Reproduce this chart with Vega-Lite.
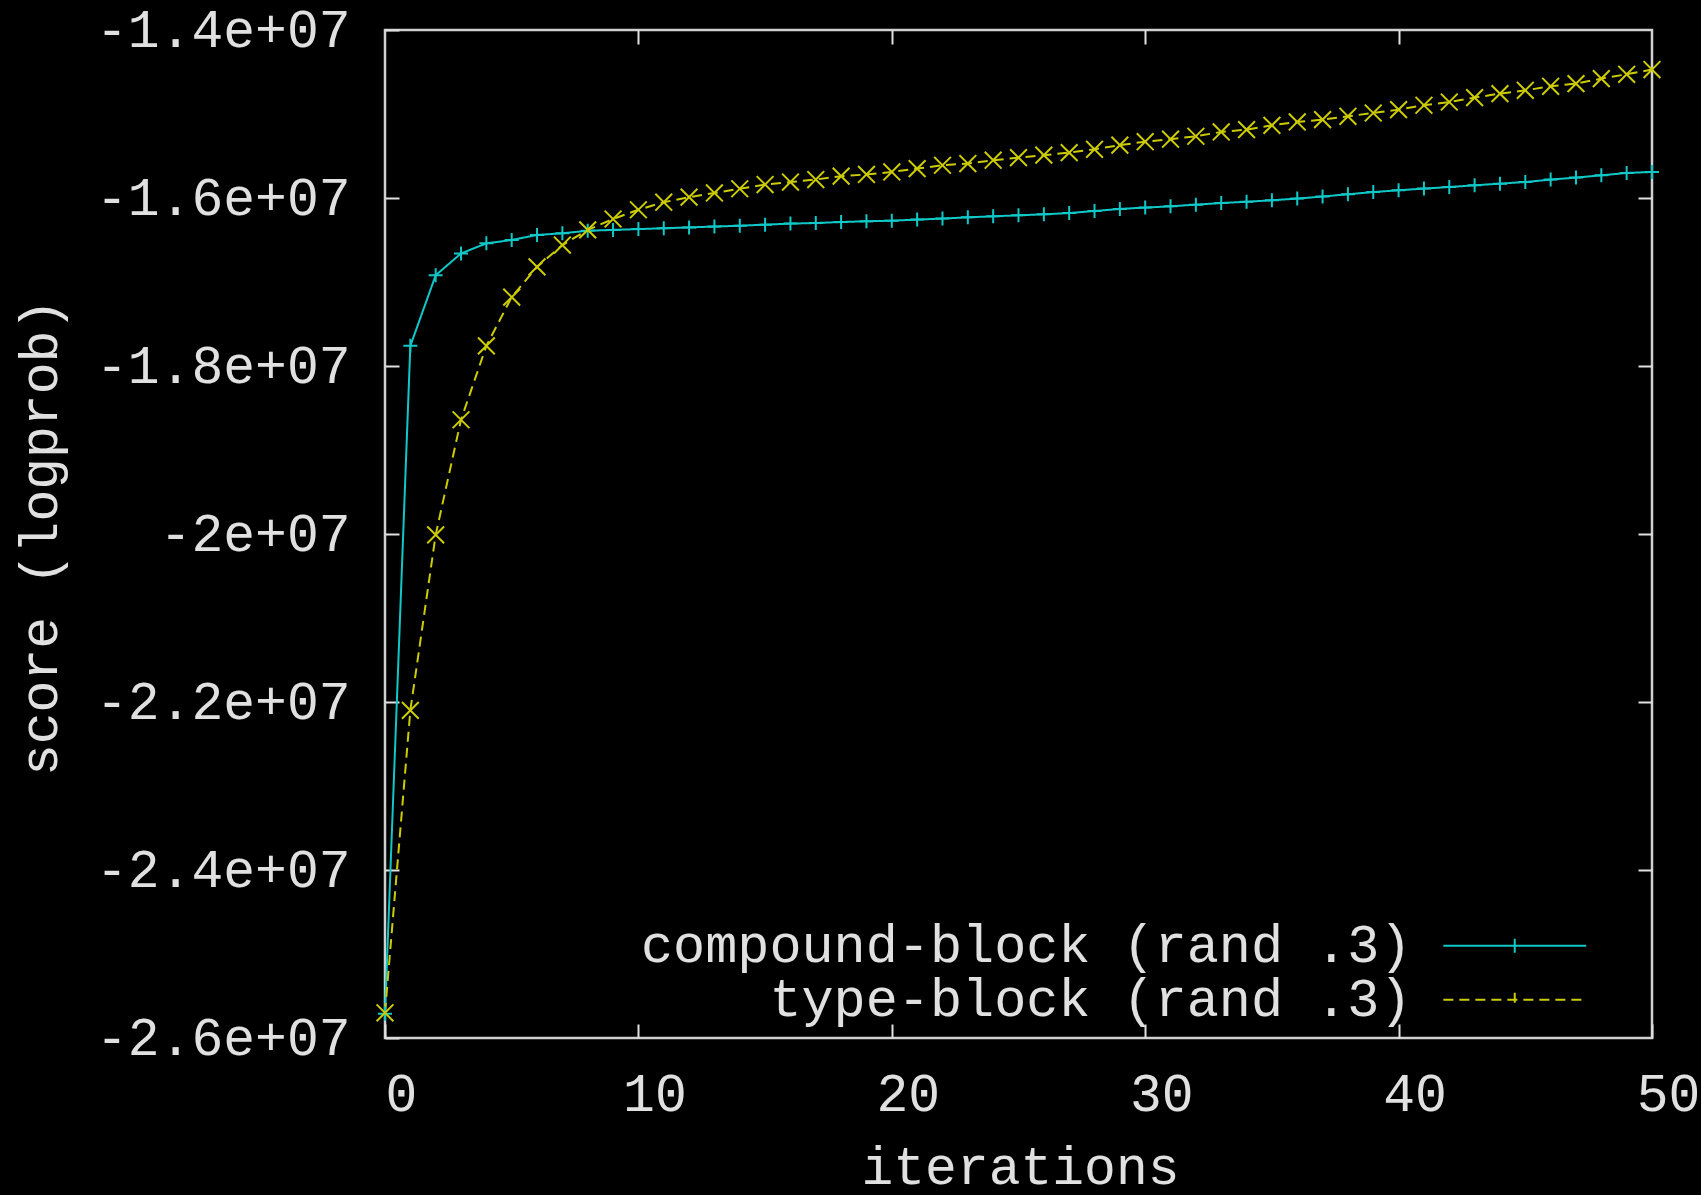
{
  "$schema": "https://vega.github.io/schema/vega-lite/v6.json",
  "width": 1267,
  "height": 1008,
  "autosize": "none",
  "padding": {"left": 385, "top": 30, "right": 49, "bottom": 157},
  "background": "#000000",
  "config": {
    "view": {"stroke": "#d0d0d0", "strokeWidth": 2.5},
    "font": "Liberation Mono",
    "axis": {
      "domain": false,
      "grid": false,
      "tickSize": -14,
      "tickWidth": 2,
      "tickColor": "#e0e0e0",
      "labelFont": "Liberation Mono",
      "labelFontSize": 53,
      "labelColor": "#e0e0e0",
      "labelFlush": false,
      "labelOverlap": false,
      "labelLimit": 0,
      "titleFont": "Liberation Mono",
      "titleFontSize": 53,
      "titleFontWeight": "normal",
      "titleColor": "#e0e0e0",
      "titleLimit": 0
    }
  },
  "datasets": {
    "scores": [
      {"iter": 0, "score": -25710000, "series": "compound-block (rand .3)"},
      {"iter": 1, "score": -17760000, "series": "compound-block (rand .3)"},
      {"iter": 2, "score": -16920000, "series": "compound-block (rand .3)"},
      {"iter": 3, "score": -16660000, "series": "compound-block (rand .3)"},
      {"iter": 4, "score": -16540000, "series": "compound-block (rand .3)"},
      {"iter": 5, "score": -16500000, "series": "compound-block (rand .3)"},
      {"iter": 6, "score": -16440000, "series": "compound-block (rand .3)"},
      {"iter": 7, "score": -16420000, "series": "compound-block (rand .3)"},
      {"iter": 8, "score": -16390000, "series": "compound-block (rand .3)"},
      {"iter": 9, "score": -16380000, "series": "compound-block (rand .3)"},
      {"iter": 10, "score": -16370000, "series": "compound-block (rand .3)"},
      {"iter": 11, "score": -16360000, "series": "compound-block (rand .3)"},
      {"iter": 12, "score": -16350000, "series": "compound-block (rand .3)"},
      {"iter": 13, "score": -16340000, "series": "compound-block (rand .3)"},
      {"iter": 14, "score": -16330000, "series": "compound-block (rand .3)"},
      {"iter": 15, "score": -16317000, "series": "compound-block (rand .3)"},
      {"iter": 16, "score": -16305000, "series": "compound-block (rand .3)"},
      {"iter": 17, "score": -16298000, "series": "compound-block (rand .3)"},
      {"iter": 18, "score": -16286000, "series": "compound-block (rand .3)"},
      {"iter": 19, "score": -16277000, "series": "compound-block (rand .3)"},
      {"iter": 20, "score": -16270000, "series": "compound-block (rand .3)"},
      {"iter": 21, "score": -16257000, "series": "compound-block (rand .3)"},
      {"iter": 22, "score": -16245000, "series": "compound-block (rand .3)"},
      {"iter": 23, "score": -16230000, "series": "compound-block (rand .3)"},
      {"iter": 24, "score": -16218000, "series": "compound-block (rand .3)"},
      {"iter": 25, "score": -16206000, "series": "compound-block (rand .3)"},
      {"iter": 26, "score": -16194000, "series": "compound-block (rand .3)"},
      {"iter": 27, "score": -16179000, "series": "compound-block (rand .3)"},
      {"iter": 28, "score": -16155000, "series": "compound-block (rand .3)"},
      {"iter": 29, "score": -16130000, "series": "compound-block (rand .3)"},
      {"iter": 30, "score": -16114000, "series": "compound-block (rand .3)"},
      {"iter": 31, "score": -16099000, "series": "compound-block (rand .3)"},
      {"iter": 32, "score": -16079000, "series": "compound-block (rand .3)"},
      {"iter": 33, "score": -16060000, "series": "compound-block (rand .3)"},
      {"iter": 34, "score": -16045000, "series": "compound-block (rand .3)"},
      {"iter": 35, "score": -16027000, "series": "compound-block (rand .3)"},
      {"iter": 36, "score": -16007000, "series": "compound-block (rand .3)"},
      {"iter": 37, "score": -15982000, "series": "compound-block (rand .3)"},
      {"iter": 38, "score": -15956000, "series": "compound-block (rand .3)"},
      {"iter": 39, "score": -15929000, "series": "compound-block (rand .3)"},
      {"iter": 40, "score": -15908000, "series": "compound-block (rand .3)"},
      {"iter": 41, "score": -15888000, "series": "compound-block (rand .3)"},
      {"iter": 42, "score": -15869000, "series": "compound-block (rand .3)"},
      {"iter": 43, "score": -15849000, "series": "compound-block (rand .3)"},
      {"iter": 44, "score": -15829000, "series": "compound-block (rand .3)"},
      {"iter": 45, "score": -15810000, "series": "compound-block (rand .3)"},
      {"iter": 46, "score": -15781000, "series": "compound-block (rand .3)"},
      {"iter": 47, "score": -15757000, "series": "compound-block (rand .3)"},
      {"iter": 48, "score": -15730000, "series": "compound-block (rand .3)"},
      {"iter": 49, "score": -15702000, "series": "compound-block (rand .3)"},
      {"iter": 50, "score": -15690000, "series": "compound-block (rand .3)"},
      {"iter": 0, "score": -25700000, "series": "type-block (rand .3)"},
      {"iter": 1, "score": -22100000, "series": "type-block (rand .3)"},
      {"iter": 2, "score": -20010000, "series": "type-block (rand .3)"},
      {"iter": 3, "score": -18640000, "series": "type-block (rand .3)"},
      {"iter": 4, "score": -17760000, "series": "type-block (rand .3)"},
      {"iter": 5, "score": -17180000, "series": "type-block (rand .3)"},
      {"iter": 6, "score": -16820000, "series": "type-block (rand .3)"},
      {"iter": 7, "score": -16560000, "series": "type-block (rand .3)"},
      {"iter": 8, "score": -16380000, "series": "type-block (rand .3)"},
      {"iter": 9, "score": -16250000, "series": "type-block (rand .3)"},
      {"iter": 10, "score": -16140000, "series": "type-block (rand .3)"},
      {"iter": 11, "score": -16050000, "series": "type-block (rand .3)"},
      {"iter": 12, "score": -15990000, "series": "type-block (rand .3)"},
      {"iter": 13, "score": -15940000, "series": "type-block (rand .3)"},
      {"iter": 14, "score": -15890000, "series": "type-block (rand .3)"},
      {"iter": 15, "score": -15840000, "series": "type-block (rand .3)"},
      {"iter": 16, "score": -15810000, "series": "type-block (rand .3)"},
      {"iter": 17, "score": -15780000, "series": "type-block (rand .3)"},
      {"iter": 18, "score": -15740000, "series": "type-block (rand .3)"},
      {"iter": 19, "score": -15720000, "series": "type-block (rand .3)"},
      {"iter": 20, "score": -15690000, "series": "type-block (rand .3)"},
      {"iter": 21, "score": -15650000, "series": "type-block (rand .3)"},
      {"iter": 22, "score": -15610000, "series": "type-block (rand .3)"},
      {"iter": 23, "score": -15590000, "series": "type-block (rand .3)"},
      {"iter": 24, "score": -15550000, "series": "type-block (rand .3)"},
      {"iter": 25, "score": -15520000, "series": "type-block (rand .3)"},
      {"iter": 26, "score": -15490000, "series": "type-block (rand .3)"},
      {"iter": 27, "score": -15460000, "series": "type-block (rand .3)"},
      {"iter": 28, "score": -15420000, "series": "type-block (rand .3)"},
      {"iter": 29, "score": -15370000, "series": "type-block (rand .3)"},
      {"iter": 30, "score": -15330000, "series": "type-block (rand .3)"},
      {"iter": 31, "score": -15300000, "series": "type-block (rand .3)"},
      {"iter": 32, "score": -15265000, "series": "type-block (rand .3)"},
      {"iter": 33, "score": -15214000, "series": "type-block (rand .3)"},
      {"iter": 34, "score": -15186000, "series": "type-block (rand .3)"},
      {"iter": 35, "score": -15135000, "series": "type-block (rand .3)"},
      {"iter": 36, "score": -15095000, "series": "type-block (rand .3)"},
      {"iter": 37, "score": -15067000, "series": "type-block (rand .3)"},
      {"iter": 38, "score": -15027000, "series": "type-block (rand .3)"},
      {"iter": 39, "score": -14988000, "series": "type-block (rand .3)"},
      {"iter": 40, "score": -14948000, "series": "type-block (rand .3)"},
      {"iter": 41, "score": -14896000, "series": "type-block (rand .3)"},
      {"iter": 42, "score": -14857000, "series": "type-block (rand .3)"},
      {"iter": 43, "score": -14805000, "series": "type-block (rand .3)"},
      {"iter": 44, "score": -14757000, "series": "type-block (rand .3)"},
      {"iter": 45, "score": -14718000, "series": "type-block (rand .3)"},
      {"iter": 46, "score": -14670000, "series": "type-block (rand .3)"},
      {"iter": 47, "score": -14638000, "series": "type-block (rand .3)"},
      {"iter": 48, "score": -14579000, "series": "type-block (rand .3)"},
      {"iter": 49, "score": -14527000, "series": "type-block (rand .3)"},
      {"iter": 50, "score": -14471000, "series": "type-block (rand .3)"}
    ]
  },
  "data": {"name": "scores"},
  "encoding": {
    "color": {
      "field": "series",
      "type": "nominal",
      "scale": {"domain": ["compound-block (rand .3)", "type-block (rand .3)"], "range": ["#10c8c8", "#cccc00"]},
      "legend": {
        "orient": "none",
        "legendX": 1103,
        "legendY": 889,
        "title": null,
        "padding": 0,
        "rowPadding": -1,
        "labelFont": "Liberation Mono",
        "labelFontSize": 53.5,
        "labelColor": "#e0e0e0",
        "labelAlign": "right",
        "labelOffset": -130,
        "labelLimit": 0,
        "symbolSize": 784,
        "symbolStrokeWidth": 2,
        "symbolFillColor": "transparent",
        "encode": {
          "symbols": {
            "update": {
              "shape": {
                "condition": {
                  "test": "datum.value === 'type-block (rand .3)'",
                  "value": "M-5.1,0H-4.35M-3.95,0H-3.2M-2.8,0H-2.05M-1.65,0H-0.95M0.95,0H1.65M2.05,0H2.8M3.2,0H3.95M4.35,0H5.1M-0.75,-0.75L0.75,0.75M-0.75,0.75L0.75,-0.75"
                },
                "value": "M-5.1,0H5.1M0,-0.5V0.5"
              },
              "fill": {"value": "transparent"}
            }
          }
        }
      }
    }
  },
  "layer": [
    {
      "mark": {"type": "line", "strokeWidth": 2},
      "encoding": {
        "x": {
          "field": "iter", "type": "quantitative",
          "scale": {"domain": [0, 50], "nice": false, "zero": false},
          "axis": {
            "orient": "bottom",
            "values": [0, 10, 20, 30, 40, 50],
            "labelPadding": 86,
            "labelBaseline": "alphabetic",
            "labelOffset": 16,
            "title": "iterations",
            "titleX": 635,
            "titleY": 145,
            "titleAlign": "center",
            "titleBaseline": "alphabetic"
          }
        },
        "y": {
          "field": "score", "type": "quantitative",
          "scale": {"domain": [-26000000, -14000000], "nice": false, "zero": false},
          "axis": {
            "orient": "left",
            "values": [-26000000, -24000000, -22000000, -20000000, -18000000, -16000000, -14000000],
            "labelPadding": 49,
            "labelAlign": "right",
            "labelBaseline": "middle",
            "labelExpr": "'-' + replace(format(-datum.value, '.2~e'), 'e+', 'e+0')",
            "title": "score (logprob)",
            "titleX": -345,
            "titleY": 507,
            "titleAngle": -90,
            "titleAlign": "center",
            "titleBaseline": "middle"
          }
        },
        "strokeDash": {
          "field": "series", "type": "nominal",
          "scale": {"domain": ["compound-block (rand .3)", "type-block (rand .3)"], "range": [[1, 0], [10, 6]]},
          "legend": null
        }
      }
    },
    {
      "transform": [{"filter": "datum.series === 'compound-block (rand .3)'"}],
      "mark": {"type": "point", "filled": false, "strokeWidth": 2, "size": 196, "opacity": 1, "shape": "M-1,0H1M0,-1V1"},
      "encoding": {
        "x": {
          "field": "iter", "type": "quantitative",
          "axis": {"orient": "top", "values": [10, 20, 30, 40], "labels": false, "title": null}
        },
        "y": {
          "field": "score", "type": "quantitative",
          "axis": {"orient": "right", "values": [-24000000, -22000000, -20000000, -18000000, -16000000], "labels": false, "title": null}
        }
      }
    },
    {
      "transform": [{"filter": "datum.series === 'type-block (rand .3)'"}],
      "mark": {"type": "point", "filled": false, "strokeWidth": 2, "size": 196, "opacity": 1, "shape": "M-1.2,-1.2L1.2,1.2M-1.2,1.2L1.2,-1.2"},
      "encoding": {
        "x": {"field": "iter", "type": "quantitative", "axis": null},
        "y": {"field": "score", "type": "quantitative", "axis": null}
      }
    }
  ],
  "resolve": {"axis": {"x": "independent", "y": "independent"}}
}
